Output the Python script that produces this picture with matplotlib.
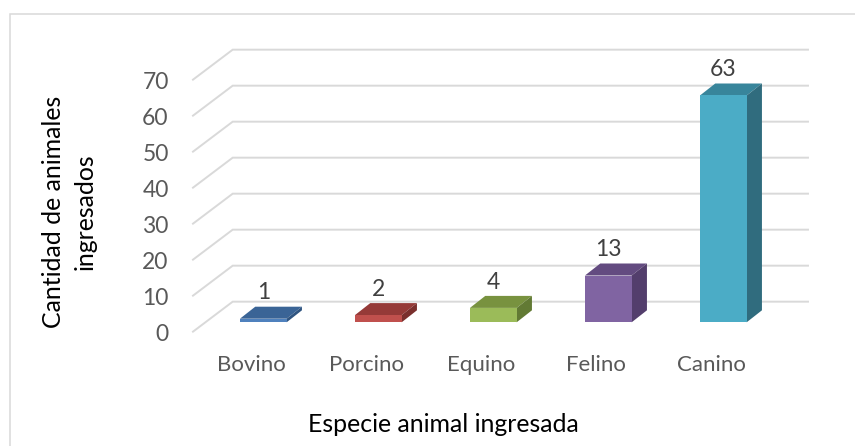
import matplotlib
matplotlib.use("Agg")
import matplotlib.pyplot as plt
from matplotlib.lines import Line2D
from matplotlib.patches import Polygon, Rectangle

species = ["Bovino", "Porcino", "Equino", "Felino", "Canino"]
counts = [1, 2, 4, 13, 63]
y_ticks = [0, 10, 20, 30, 40, 50, 60, 70]

# face, top, side
front_colors = ["#4F81BD", "#C0504D", "#9BBB59", "#8064A2", "#4BACC6"]
top_colors = ["#3A6496", "#953A38", "#78923F", "#634B80", "#38859B"]
side_colors = ["#2F5480", "#7A2F2D", "#627A34", "#533E6C", "#306C7E"]

plt.rcParams["font.family"] = ["Lato", "DejaVu Sans"]

W, H = 855, 446
PX_PER_UNIT = 3.6      # pixels for one animal
PX_PER_CAT = 115.0     # pixels between bars
BAR_W = 0.406
DEPTH_X = 15.3 / PX_PER_CAT
DEPTH_Y = 12 / PX_PER_UNIT
FRONT_Y = 2.6          # gridline front end below bar base, in value units
BACK_Y = 5.73          # gridline back end above bar base
BACK_X = 39.7 / PX_PER_CAT
LABEL_SHIFT = 12 / PX_PER_CAT  # category labels sit left of the bars
BASE_PX = 322.3        # bar base, pixels from the top

fig = plt.figure(figsize=(W / 100, H / 100), dpi=100)
# bottom leaves room so the tick positions stay inside the limits
left, right, bottom, top = 193, 808, 340, 49.3
ax = fig.add_axes([left / W, 1 - bottom / H, (right - left) / W, (bottom - top) / H])
for s in ax.spines.values():
    s.set_visible(False)

x0 = (left - 263.3) / PX_PER_CAT
x1 = (right - 263.3) / PX_PER_CAT
for v in y_ticks:
    ax.plot([x0, x0 + BACK_X, x1], [v - FRONT_Y, v + BACK_Y, v + BACK_Y],
            color="#D9D9D9", lw=1.4, zorder=1, clip_on=False, solid_joinstyle="miter")

for i, v in enumerate(counts):
    l = i - BAR_W / 2
    r = i + BAR_W / 2
    ax.add_patch(Polygon([(l, v), (r, v), (r + DEPTH_X, v + DEPTH_Y), (l + DEPTH_X, v + DEPTH_Y)],
                         fc=top_colors[i], ec="none", zorder=3))
    ax.add_patch(Polygon([(r, 0), (r + DEPTH_X, DEPTH_Y), (r + DEPTH_X, v + DEPTH_Y), (r, v)],
                         fc=side_colors[i], ec="none", zorder=3))
    ax.add_patch(Rectangle((l, 0), BAR_W, v, fc=front_colors[i], ec="none", zorder=4))
    ax.text(i, v + DEPTH_Y + 0.9, str(v), ha="center", va="bottom", fontsize=16.5, color="#404040", zorder=5)

ax.set_yticks([v - FRONT_Y - 0.3 for v in y_ticks], [str(v) for v in y_ticks])
ax.set_xticks([i - LABEL_SHIFT for i in range(len(species))], species)
ax.set_xlim(x0, x1)
ax.set_ylim((BASE_PX - bottom) / PX_PER_UNIT, (BASE_PX - top) / PX_PER_UNIT)
ax.tick_params(axis="y", length=0, pad=17.5, labelsize=16.5, labelcolor="#595959")
ax.tick_params(axis="x", length=0, pad=10.5, labelsize=16, labelcolor="#595959")

ax.set_xlabel("Especie animal ingresada", fontsize=17.9, color="black")
ax.xaxis.set_label_coords((443 - left) / (right - left), -(413 - bottom) / (bottom - top), transform=ax.transAxes)
ax.set_ylabel("Cantidad de animales\ningresados", fontsize=17.9, color="black", linespacing=1.5)
ax.yaxis.set_label_coords((97 - left) / (right - left), (bottom - 212) / (bottom - top), transform=ax.transAxes)

# chart frame, only top and left are inside the crop
frame_x = 9.5 / W
frame_y = 1 - 13.5 / H
fig.add_artist(Line2D([frame_x, frame_x, 1], [0, frame_y, frame_y], transform=fig.transFigure,
                      color="#D9D9D9", lw=1.1, solid_joinstyle="miter"))

fig.savefig("out.png", dpi=100)
